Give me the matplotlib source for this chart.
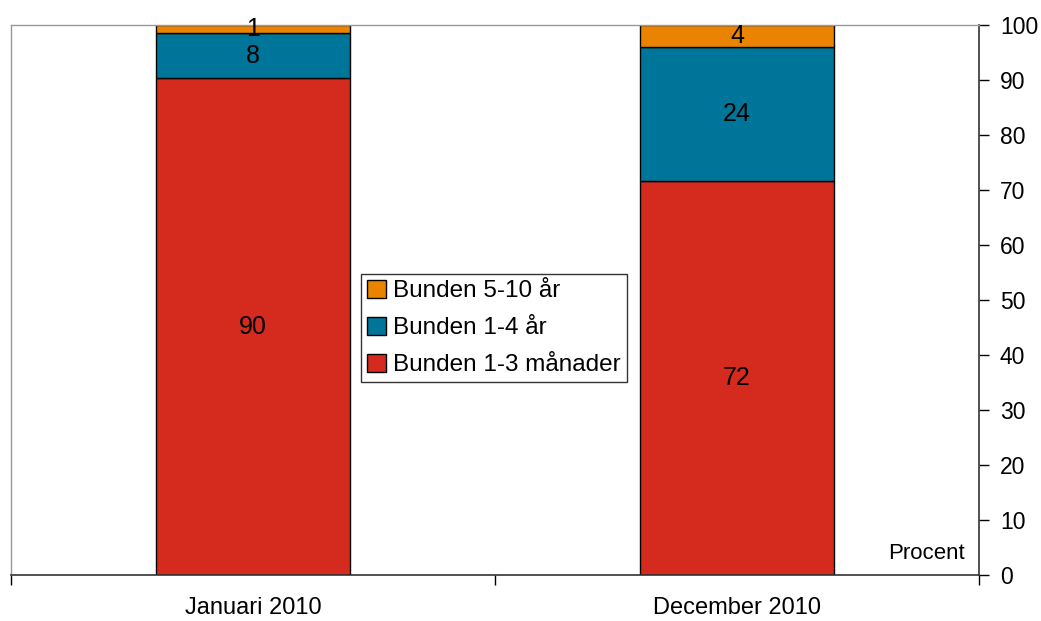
import numpy as np
import matplotlib.pyplot as plt

# data
kategorier = ["Januari 2010", "December 2010"]
serier = ["Bunden 1-3 månader", "Bunden 1-4 år", "Bunden 5-10 år"]
kort = [90.3, 71.7]
mellan = [8.3, 24.35]
lang = [1.4, 3.95]
etiketter = [["90", "72"], ["8", "24"], ["1", "4"]]
farger = ["#D52B1E", "#00759A", "#E98300"]

plt.rcParams['font.family'] = ['Liberation Sans', 'DejaVu Sans']

fig = plt.figure(figsize=(10.41, 6.21), dpi=100)
ax = fig.add_axes([11 / 1041, 1 - 575 / 621, 968 / 1041, 550 / 621])

x = np.arange(len(kategorier))
botten = np.zeros(len(kategorier))
handles = []
for varden, farg, namn, lab in zip([kort, mellan, lang], farger, serier, etiketter):
    b = ax.bar(x, varden, width=0.4, bottom=botten, color=farg,
               edgecolor="black", linewidth=1, label=namn)
    handles.append(b)
    for xi, v, bo, t in zip(x, varden, botten, lab):
        ax.text(xi, bo + v / 2, t, ha="center", va="center", fontsize=18)
    botten += np.array(varden)

ax.set_xlim(-0.5, 1.5)
ax.set_ylim(0, 100)

# axlar
ax.yaxis.tick_right()
ax.set_yticks(range(0, 101, 10))
ax.tick_params(axis="y", labelsize=16.5, length=7, width=1, pad=8, direction="out")
ax.set_xticks([-0.5, 0.5, 1.5], minor=False)
ax.set_xticklabels([])
ax.set_xticks(x, minor=True)
ax.set_xticklabels(kategorier, minor=True)
ax.tick_params(axis="x", which="major", length=7, width=1, direction="out")
ax.tick_params(axis="x", which="minor", length=0, labelsize=17, pad=16)

for s in ["top", "left"]:
    ax.spines[s].set_color("#999999")
    ax.spines[s].set_linewidth(1)
for s in ["right", "bottom"]:
    ax.spines[s].set_color("#333333")
    ax.spines[s].set_linewidth(1.2)

ax.text(0.985, 0.02, "Procent", transform=ax.transAxes, ha="right", va="bottom",
        fontsize=16)

leg = ax.legend(handles[::-1], serier[::-1], loc="center",
                bbox_to_anchor=((494 - 11) / 968, (575 - 328) / 550),
                fontsize=17.5, frameon=True, fancybox=False, edgecolor="black",
                handlelength=0.75, handleheight=0.75, handletextpad=0.3,
                borderpad=0.25, labelspacing=0.6, borderaxespad=0)
leg.get_frame().set_linewidth(1)

fig.savefig("out.png", dpi=100)
